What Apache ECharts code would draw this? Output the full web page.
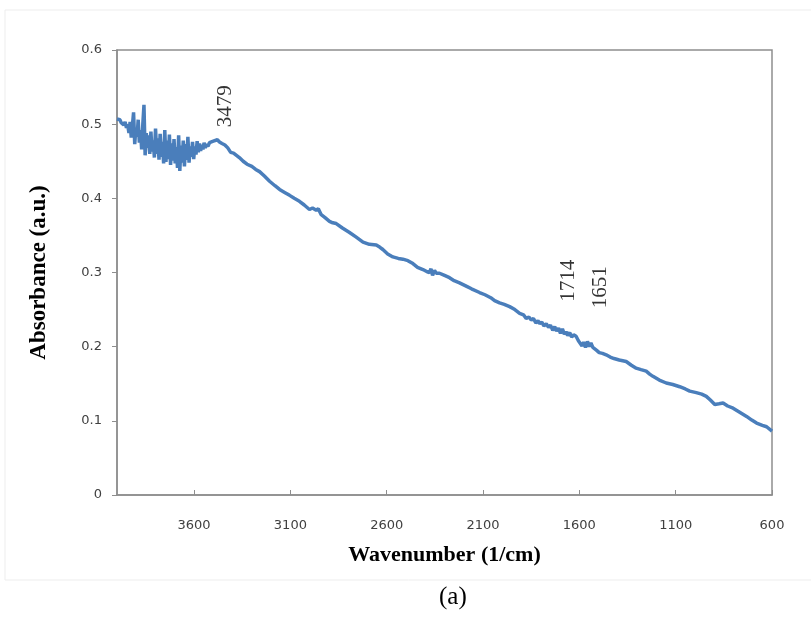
<!DOCTYPE html>
<html>
<head>
<meta charset="utf-8">
<script src="https://cdn.jsdelivr.net/npm/echarts@6/dist/echarts.min.js"></script>
<style>
  html, body { margin: 0; padding: 0; background: #fff; }
</style>
</head>
<body>
<div id="ftirChart" style="width: 811px;height:618px;"></div>
<script>
// 波数 (1/cm)
var wavenumbers = [
  4000, 3992, 3985, 3978, 3972, 3965, 3958, 3951, 3945, 3938, 3932, 3926, 3920, 3914, 3908, 3902,
  3896, 3890, 3884, 3878, 3872, 3866, 3860, 3854, 3848, 3842, 3836, 3830, 3824, 3818, 3812, 3806,
  3800, 3794, 3788, 3782, 3776, 3770, 3764, 3758, 3752, 3746, 3740, 3734, 3728, 3722, 3716, 3710,
  3704, 3698, 3692, 3686, 3680, 3674, 3668, 3662, 3656, 3650, 3644, 3638, 3632, 3626, 3620, 3614,
  3608, 3602, 3596, 3590, 3584, 3578, 3572, 3566, 3560, 3554, 3548, 3542, 3536, 3528, 3520, 3510,
  3500, 3490, 3479, 3468, 3455, 3440, 3425, 3410, 3395, 3380, 3365, 3345, 3325, 3300, 3280, 3260,
  3235, 3208, 3180, 3156, 3130, 3104, 3080, 3053, 3028, 3001, 2985, 2966, 2955, 2940, 2920, 2897,
  2880, 2862, 2830, 2793, 2760, 2723, 2690, 2654, 2635, 2620, 2595, 2568, 2540, 2516, 2490, 2464,
  2440, 2412, 2390, 2378, 2370, 2362, 2352, 2343, 2326, 2300, 2274, 2250, 2222, 2190, 2160, 2118,
  2090, 2060, 2040, 2014, 1990, 1962, 1935, 1910, 1890, 1876, 1862, 1850, 1838, 1826, 1815, 1806,
  1795, 1784, 1772, 1760, 1750, 1738, 1728, 1718, 1708, 1698, 1688, 1678, 1669, 1660, 1650, 1640,
  1630, 1617, 1605, 1596, 1586, 1578, 1568, 1558, 1548, 1540, 1530, 1520, 1510, 1497, 1480, 1461,
  1440, 1420, 1393, 1375, 1357, 1330, 1305, 1280, 1253, 1235, 1218, 1185, 1149, 1115, 1079, 1050,
  1027, 993, 965, 941, 920, 897, 875, 854, 830, 802, 770, 732, 705, 680, 650, 628, 600
];
// 吸光度 (a.u.)
var absorbance = [
  0.507, 0.505, 0.506, 0.502, 0.504, 0.499, 0.503, 0.495, 0.500, 0.488, 0.503, 0.482, 0.498, 0.516, 0.473, 0.495,
  0.483, 0.506, 0.475, 0.492, 0.466, 0.500, 0.526, 0.458, 0.488, 0.468, 0.485, 0.460, 0.490, 0.463, 0.478, 0.455,
  0.494, 0.460, 0.481, 0.452, 0.487, 0.456, 0.476, 0.447, 0.492, 0.449, 0.478, 0.453, 0.486, 0.445, 0.474, 0.451,
  0.480, 0.447, 0.469, 0.441, 0.485, 0.437, 0.471, 0.448, 0.478, 0.443, 0.473, 0.452, 0.483, 0.448, 0.470, 0.456,
  0.476, 0.453, 0.470, 0.459, 0.477, 0.462, 0.474, 0.464, 0.472, 0.466, 0.475, 0.468, 0.473, 0.470, 0.475, 0.473,
  0.477, 0.478, 0.479, 0.476, 0.474, 0.472, 0.468, 0.462, 0.461, 0.458, 0.455, 0.450, 0.446, 0.443, 0.439, 0.436,
  0.430, 0.423, 0.417, 0.412, 0.408, 0.404, 0.400, 0.396, 0.391, 0.385, 0.387, 0.384, 0.386, 0.378, 0.374, 0.369,
  0.367, 0.366, 0.360, 0.354, 0.348, 0.341, 0.338, 0.337, 0.334, 0.331, 0.325, 0.321, 0.319, 0.318, 0.316, 0.312,
  0.307, 0.304, 0.301, 0.300, 0.305, 0.296, 0.303, 0.299, 0.299, 0.296, 0.293, 0.289, 0.286, 0.282, 0.278, 0.273,
  0.270, 0.266, 0.262, 0.259, 0.257, 0.254, 0.250, 0.245, 0.243, 0.238, 0.240, 0.236, 0.238, 0.232, 0.235, 0.231,
  0.233, 0.228, 0.231, 0.226, 0.229, 0.222, 0.227, 0.221, 0.225, 0.218, 0.224, 0.217, 0.220, 0.215, 0.219, 0.213,
  0.216, 0.214, 0.208, 0.210, 0.201, 0.206, 0.199, 0.207, 0.200, 0.205, 0.199, 0.197, 0.195, 0.192, 0.191, 0.189,
  0.186, 0.184, 0.182, 0.181, 0.180, 0.175, 0.171, 0.169, 0.167, 0.163, 0.160, 0.155, 0.151, 0.149, 0.146, 0.143,
  0.140, 0.138, 0.136, 0.133, 0.128, 0.122, 0.123, 0.124, 0.120, 0.117, 0.112, 0.106, 0.101, 0.097, 0.094, 0.092, 0.086
];
// 峰标注: 文字, 文字中心的 [波数, 吸光度]
var peakTexts = ['3479', '1714', '1651'];
var peakTextWn = [3437, 1656, 1490];
var peakTextAbs = [0.524, 0.289, 0.280];

var fontColor = '#404040';
var axisColor = '#8e8e8e';

var myChart = echarts.init(document.getElementById('ftirChart'));
var option = {
  animation: false,
  title: {
    text: '(a)',
    left: 434,
    top: 580,
    textStyle: {
      fontFamily: 'Liberation Serif',
      fontWeight: 'normal',
      fontSize: 25,
      color: '#000'
    }
  },
  // Excel 图表区淡边框
  graphic: [{
    type: 'rect',
    silent: true,
    shape: { x: 5, y: 10, width: 810, height: 570 },
    style: { fill: 'none', stroke: '#ededed', lineWidth: 1 }
  }],
  grid: {
    left: 117,
    right: 39,
    top: 50,
    bottom: 123,
    show: true,
    borderColor: axisColor,
    borderWidth: 1.5
  },
  xAxis: {
    type: 'value',
    inverse: true,
    min: 600,
    max: 4000,
    interval: 500,
    name: 'Wavenumber (1/cm)',
    nameLocation: 'middle',
    nameGap: 49,
    nameTextStyle: {
      fontFamily: 'Liberation Serif',
      fontWeight: 'bold',
      fontSize: 22,
      color: '#000'
    },
    axisLine: { lineStyle: { color: axisColor, width: 1.5 } },
    axisTick: { inside: true, length: 5, lineStyle: { color: axisColor } },
    axisLabel: {
      margin: 24,
      showMaxLabel: false,
      color: fontColor,
      fontFamily: 'DejaVu Sans',
      fontSize: 13,
      formatter: function (v) {
        return String(v);
      }
    },
    splitLine: { show: false }
  },
  yAxis: {
    type: 'value',
    min: 0,
    max: 0.6,
    interval: 0.1,
    name: 'Absorbance (a.u.)',
    nameLocation: 'middle',
    nameGap: 66,
    nameTextStyle: {
      fontFamily: 'Liberation Serif',
      fontWeight: 'bold',
      fontSize: 23,
      color: '#000'
    },
    axisLine: { show: true, lineStyle: { color: axisColor, width: 1.5 } },
    axisTick: { show: true, length: 5, lineStyle: { color: axisColor } },
    axisLabel: {
      margin: 15,
      color: fontColor,
      fontFamily: 'DejaVu Sans',
      fontSize: 13
    },
    splitLine: { show: false }
  },
  series: [
    {
      name: 'Absorbance',
      type: 'line',
      showSymbol: false,
      lineStyle: { color: '#4a7ebb', width: 3.5 },
      data: wavenumbers.map(function (w, i) {
        return [w, absorbance[i]];
      })
    },
    {
      name: 'peaks',
      type: 'scatter',
      symbolSize: 0,
      silent: true,
      label: {
        show: true,
        position: 'inside',
        rotate: 90,
        fontFamily: 'Liberation Serif',
        fontSize: 21,
        color: '#000',
        formatter: function (p) {
          return peakTexts[p.dataIndex];
        }
      },
      data: peakTextWn.map(function (w, i) {
        return [w, peakTextAbs[i]];
      })
    }
  ]
};
myChart.setOption(option);
</script>
</body>
</html>
